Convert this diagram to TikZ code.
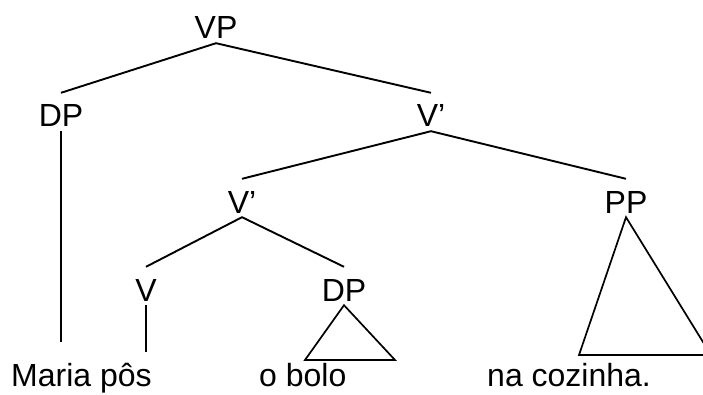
\documentclass[tikz,border=0pt]{standalone}
\usepackage{fontspec}
\setmainfont{Liberation Sans}

\begin{document}
\begin{tikzpicture}[x=1pt, y=1pt,
    phrase/.style={anchor=base, inner sep=0pt, text height=34pt, text depth=4pt,
      font=\fontsize{32}{38}\selectfont},
    word/.style={anchor=base west, inner sep=0pt, font=\fontsize{32}{38}\selectfont},
    branch/.style={line width=1.9pt},
    roof/.style={line width=1.7pt, line join=miter}
  ]
  \useasboundingbox (0,0) rectangle (703,394);
  \clip (0,0) rectangle (703,394);

  % categories
  \node (VP) [phrase] at (216,355) {VP};
  \node (DP subj) [phrase] at (61,267) {DP};
  \node (V bar top) [phrase] at (431,267) {V’};
  \node (V bar low) [phrase] at (242,181) {V’};
  \node (PP) [phrase] at (626,181) {PP};
  \node (V) [phrase] at (146,93) {V};
  \node (DP obj) [phrase] at (344,93) {DP};

  % words
  \node (maria) [word] at (11,7.5) {Maria pôs};
  \node (bolo) [word] at (259,7.5) {o bolo};
  \node (cozinha) [word] at (487,7.5) {na cozinha.};

  \coordinate (maria end) at (61,52);
  \coordinate (pos end) at (146,42);
  \coordinate (bolo left) at (305,34);
  \coordinate (bolo right) at (395,34);
  \coordinate (cozinha left) at (579,39);
  \coordinate (cozinha right) at (711,39);

  % branches
  \draw [branch] (DP subj.north) -- (VP.south) -- (V bar top.north);
  \draw [branch] (V bar low.north) -- (V bar top.south) -- (PP.north);
  \draw [branch] (V.north) -- (V bar low.south) -- (DP obj.north);
  \draw [roof] (DP subj.south) -- (maria end);
  \draw [roof] (V.south) -- (pos end);

  % triangles
  \draw [roof]
    (DP obj.south) -- (bolo left) -- (bolo right) -- cycle
  ;
  \draw [roof]
    (PP.south) -- (cozinha left) -- (cozinha right) -- cycle
  ;
\end{tikzpicture}
\end{document}
